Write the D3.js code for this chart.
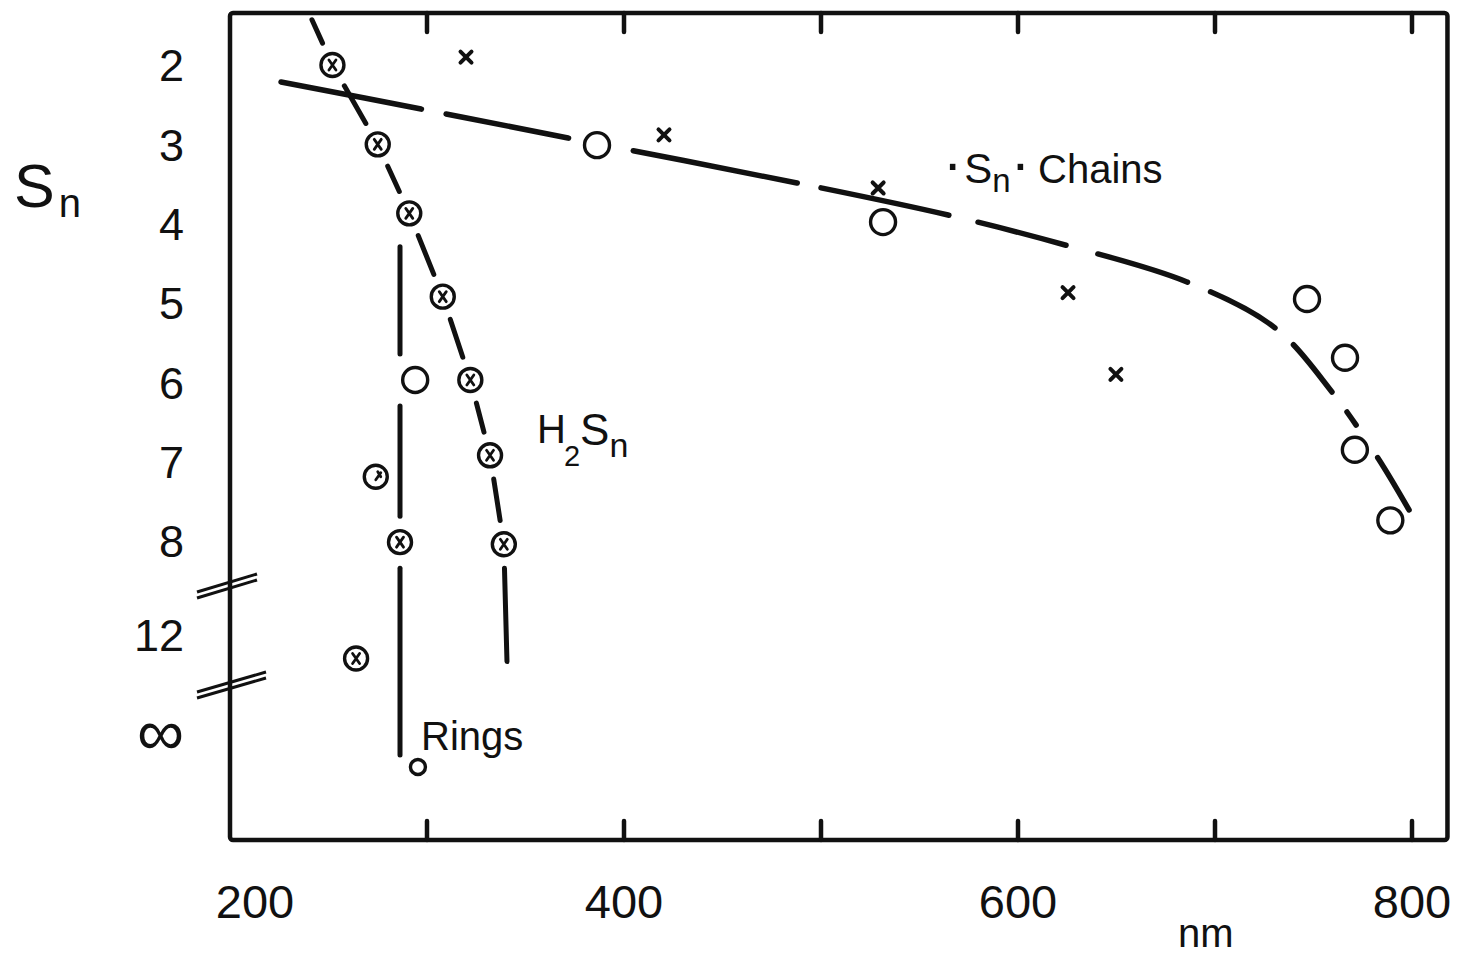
<!DOCTYPE html>
<html>
<head>
<meta charset="utf-8">
<script src="https://cdn.jsdelivr.net/npm/d3@7"></script>
<style>
  html, body { margin: 0; padding: 0; background: #fff; }
  svg { display: block; }
  text { font-family: "Liberation Sans", Arial, sans-serif; fill: #111; }
</style>
</head>
<body>
<svg id="chart" width="1462" height="957"></svg>
<script>
// ---------- data ----------
const xTickValues = [300, 400, 500, 600, 700, 800];
const xLabelValues = [200, 400, 600, 800];
const yTickValues = [2, 3, 4, 5, 6, 7, 8, 12, 16];          // 16 stands for "∞"
const yTickLabels = ["2", "3", "4", "5", "6", "7", "8", "12", "\u221E"];

// H2Sn series (circled crosses) and its dashed trace
const h2snPoints = [[252, 2.0], [275, 3.0], [291, 3.87], [308, 4.92], [322, 5.97], [332, 6.92], [339, 8.14]];
const h2snTrace = [[241.6, 1.43], [252, 2.0], [275, 3.0], [291, 3.87], [308, 4.92], [322, 5.97], [332, 6.92], [339, 8.14], [340.6, 13.06]];

// Rings
const ringsCrossed = [[286.3, 8.05], [264, 12.94]];
const ringsPartial = [[274, 7.19]];
const ringsOpen = [[294, 5.97]];
const ringsSmall = [[295.4, 17.28]];
const ringsTrace = [[286.3, 4.29], [286.3, 5.97], [286.3, 8.05], [286.3, 16.8]];

// ·Sn· chains
const chainOpen = [[386.3, 3.01], [531.5, 3.98], [746.7, 4.95], [766, 5.69], [771, 6.85], [789, 7.74]];
const chainCross = [[319.8, 1.9], [420.3, 2.88], [529, 3.55], [625.4, 4.87], [649.7, 5.9]];
const chainTrace = [[225.9, 2.214], [297, 2.555], [371.6, 2.92], [487.8, 3.487], [564.5, 3.891],
                    [623.9, 4.269], [685.8, 4.735], [730.5, 5.315], [759.4, 6.122], [782.7, 6.954], [798.5, 7.609]];
const chainDashes = [143, 25, 125, 66, 167, 24, 131, 30, 91, 33, 94, 25, 74, 25, 61, 25, 16, 39, 61, 200];

// ---------- layout ----------
const svg = d3.select("#chart");
const x = d3.scaleLinear().domain([200, 800]).range([230, 1412]);
const y = d3.scaleLinear().domain([2, 8, 12, 16]).range([65, 541, 635, 735]);
const frame = { left: x(200), right: x(818), top: 13, bottom: 840 };

// frame
svg.append("rect")
  .attr("x", frame.left).attr("y", frame.top)
  .attr("width", frame.right - frame.left).attr("height", frame.bottom - frame.top)
  .attr("rx", 3)
  .attr("fill", "none").attr("stroke", "#111").attr("stroke-width", 4.5);

// ticks (inward, top and bottom)
svg.append("g").selectAll("line").data(xTickValues).join("line")
  .attr("x1", d => x(d)).attr("x2", d => x(d))
  .attr("y1", frame.top).attr("y2", frame.top + 19)
  .attr("stroke", "#111").attr("stroke-width", 4.5).attr("stroke-linecap", "round");
svg.append("g").selectAll("line").data(xTickValues).join("line")
  .attr("x1", d => x(d)).attr("x2", d => x(d))
  .attr("y1", frame.bottom).attr("y2", frame.bottom - 19)
  .attr("stroke", "#111").attr("stroke-width", 4.5).attr("stroke-linecap", "round");

// x labels
svg.append("g").selectAll("text").data(xLabelValues).join("text")
  .attr("x", d => x(d)).attr("dx", (d, i) => i === 0 ? 25 : 0)
  .attr("y", 918).attr("text-anchor", "middle")
  .attr("font-size", 47).text(d => d);
svg.append("text").attr("x", 1178).attr("y", 947).attr("font-size", 40).text("nm");

// y labels
svg.append("g").selectAll("text").data(yTickValues).join("text")
  .attr("x", 184).attr("y", d => y(d))
  .attr("text-anchor", "end")
  .attr("font-size", (d, i) => yTickLabels[i] === "\u221E" ? 66 : 45)
  .attr("dy", (d, i) => yTickLabels[i] === "\u221E" ? "0.3em" : "0.36em")
  .text((d, i) => yTickLabels[i]);

// axis title Sn
const sn = svg.append("text").attr("x", 14).attr("y", 207).attr("font-size", 61);
sn.append("tspan").text("S");
sn.append("tspan").attr("font-size", 40).attr("dx", 4).attr("dy", 10).text("n");

// axis breaks
[[[197, 592], [257, 574]], [[197, 598], [257, 580]], [[197, 692], [266, 672]], [[197, 698], [266, 678]]]
  .forEach(seg => {
    svg.append("line").attr("x1", seg[0][0]).attr("y1", seg[0][1]).attr("x2", seg[1][0]).attr("y2", seg[1][1])
      .attr("stroke", "#111").attr("stroke-width", 3);
  });

// ---------- traces ----------
function trimmedSegments(pts, gap) {
  const px = pts.map(p => [x(p[0]), y(p[1])]);
  const segs = [];
  for (let i = 0; i < px.length - 1; i++) {
    const a = px[i], b = px[i + 1];
    const dx = b[0] - a[0], dy = b[1] - a[1];
    const len = Math.hypot(dx, dy);
    const ga = i === 0 ? 0 : gap;
    const gb = i === px.length - 2 ? 0 : gap;
    if (len <= ga + gb) continue;
    segs.push([[a[0] + dx * ga / len, a[1] + dy * ga / len], [b[0] - dx * gb / len, b[1] - dy * gb / len]]);
  }
  return segs;
}
function drawSegments(segs) {
  svg.append("g").selectAll("line").data(segs).join("line")
    .attr("x1", d => d[0][0]).attr("y1", d => d[0][1])
    .attr("x2", d => d[1][0]).attr("y2", d => d[1][1])
    .attr("stroke", "#111").attr("stroke-width", 5).attr("stroke-linecap", "round");
}
drawSegments(trimmedSegments(h2snTrace, 24));
drawSegments(trimmedSegments(ringsTrace, 26));

const chainLine = d3.line().x(d => x(d[0])).y(d => y(d[1])).curve(d3.curveCatmullRom.alpha(0.5));
svg.append("path").datum(chainTrace).attr("d", chainLine)
  .attr("fill", "none").attr("stroke", "#111").attr("stroke-width", 5.5)
  .attr("stroke-linecap", "round").attr("stroke-dasharray", chainDashes.join(","));

// ---------- markers ----------
function crossedCircles(data, r) {
  const g = svg.append("g").selectAll("g").data(data).join("g")
    .attr("transform", d => `translate(${x(d[0])},${y(d[1])})`);
  g.append("circle").attr("r", r).attr("fill", "#fff").attr("stroke", "#111").attr("stroke-width", 3.4);
  g.append("path").attr("d", "M-3.5,-5L3.5,5M3.5,-5L-3.5,5")
    .attr("stroke", "#111").attr("stroke-width", 2.8).attr("stroke-linecap", "round");
}
function partialCircles(data, r) {
  const g = svg.append("g").selectAll("g").data(data).join("g")
    .attr("transform", d => `translate(${x(d[0])},${y(d[1])})`);
  g.append("circle").attr("r", r).attr("fill", "#fff").attr("stroke", "#111").attr("stroke-width", 3.4);
  g.append("path").attr("d", "M0,3L5,-4M2,-5L5,0")
    .attr("stroke", "#111").attr("stroke-width", 2.8).attr("stroke-linecap", "round");
}
function openCircles(data, r) {
  svg.append("g").selectAll("circle").data(data).join("circle")
    .attr("cx", d => x(d[0])).attr("cy", d => y(d[1])).attr("r", r)
    .attr("fill", "#fff").attr("stroke", "#111").attr("stroke-width", 3.4);
}
function crosses(data, s) {
  svg.append("g").selectAll("path").data(data).join("path")
    .attr("transform", d => `translate(${x(d[0])},${y(d[1])})`)
    .attr("d", `M${-s},${-s}L${s},${s}M${s},${-s}L${-s},${s}`)
    .attr("stroke", "#111").attr("stroke-width", 4).attr("stroke-linecap", "round");
}
crossedCircles(h2snPoints, 11.5);
crossedCircles(ringsCrossed, 11.5);
partialCircles(ringsPartial, 11.5);
openCircles(ringsOpen, 12.5);
openCircles(ringsSmall, 7.5);
openCircles(chainOpen, 12.5);
crosses(chainCross, 5.5);

// ---------- annotations ----------
const h2 = svg.append("text").attr("x", 537).attr("y", 443).attr("font-size", 40);
h2.append("tspan").text("H");
h2.append("tspan").attr("font-size", 29).attr("dy", 23).attr("dx", -2).text("2");
h2.append("tspan").attr("font-size", 44).attr("dy", -21).text("S");
h2.append("tspan").attr("font-size", 34).attr("dy", 12).text("n");

const ch = svg.append("text").attr("x", 943).attr("y", 183).attr("font-size", 40);
ch.append("tspan").attr("font-size", 58).text("\u00B7");
ch.append("tspan").attr("font-size", 42).attr("dx", 2).text("S");
ch.append("tspan").attr("font-size", 33).attr("dy", 9).text("n");
ch.append("tspan").attr("font-size", 58).attr("dy", -9).text("\u00B7");
ch.append("tspan").attr("dx", 8).text("Chains");

svg.append("text").attr("x", 421).attr("y", 750).attr("font-size", 40).text("Rings");
</script>
</body>
</html>
